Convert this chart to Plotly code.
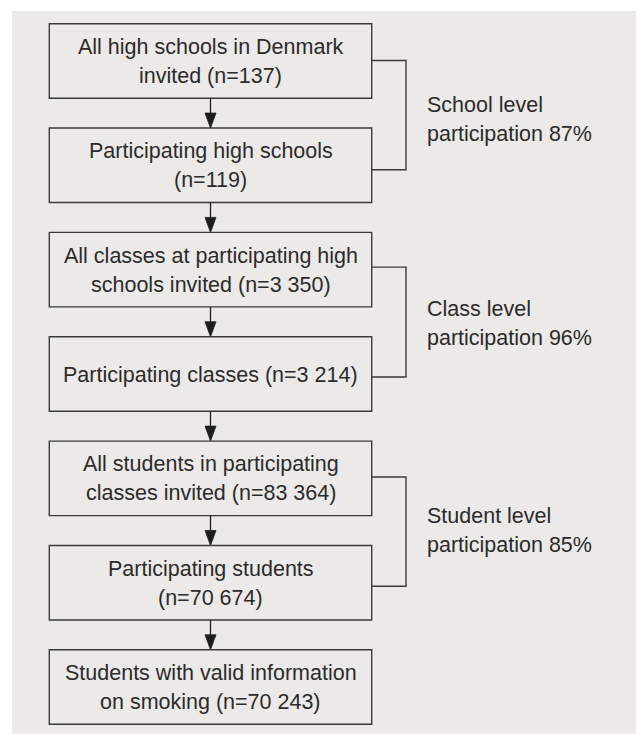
import plotly.graph_objects as go

# ---- data ----
box_labels = [
    "All high schools in Denmark<br>invited (n=137)",
    "Participating high schools<br>(n=119)",
    "All classes at participating high<br>schools invited (n=3 350)",
    "Participating classes (n=3 214)",
    "All students in participating<br>classes invited (n=83 364)",
    "Participating students<br>(n=70 674)",
    "Students with valid information<br>on smoking (n=70 243)",
]
level_names = ["School level", "Class level", "Student level"]
participation_pct = [87, 96, 85]

# ---- layout constants (page pixels) ----
W, H = 644, 734
OFF = 8  # body margin of the html page
panel = dict(x0=12, y0=11, x1=650, y1=740)
box_x0, box_x1 = 49.3, 371.7
box_top0 = 23.7
box_h = 74.5
pitch = 104.35
bracket_x = 406
label_x = 425
conn_off_top = [-0.5, -2.5, -1.3]
conn_off_bot = [4.5, 3.0, 3.5]
label_first_line = [105, 309, 516]
line_gap = 29
line_col = "#3a3a3a"
text_col = "#2b2b2b"
font_family = "Liberation Sans, Arial, sans-serif"
fs = 21.5

shapes = []
annotations = []

shapes.append(dict(type="rect", xref="x", yref="y", **panel,
                   fillcolor="#ebeae8", line=dict(width=0), layer="below"))


def add_lines(x, yc, lines, anchor, align):
    n = len(lines)
    for j, ln in enumerate(lines):
        y = yc + (j - (n - 1) / 2) * line_gap
        annotations.append(dict(x=x, y=y, xref="x", yref="y", text=ln,
                                showarrow=False, xanchor=anchor, yanchor="middle",
                                align=align,
                                font=dict(family=font_family, size=fs, color=text_col)))


box_cx = (box_x0 + box_x1) / 2
tops = [box_top0 + i * pitch for i in range(len(box_labels))]
for i, lab in enumerate(box_labels):
    t = tops[i]
    b = t + box_h
    shapes.append(dict(type="rect", xref="x", yref="y", x0=box_x0, x1=box_x1,
                       y0=t, y1=b, line=dict(color=line_col, width=1.4),
                       fillcolor="rgba(0,0,0,0)"))
    add_lines(box_cx, (t + b) / 2 + 0.5, lab.split("<br>"), "center", "center")
    if i < len(box_labels) - 1:
        nt = tops[i + 1]
        shapes.append(dict(type="line", xref="x", yref="y", x0=box_cx, x1=box_cx,
                           y0=b, y1=nt - 14, line=dict(color="#1e1e1e", width=1.3)))
        shapes.append(dict(type="path", xref="x", yref="y",
                           path=f"M {box_cx-5.5} {nt-15} L {box_cx+5.5} {nt-15} L {box_cx} {nt} Z",
                           fillcolor="#1e1e1e", line=dict(color="#1e1e1e", width=0.8)))

for k in range(3):
    a = 2 * k
    ya = tops[a] + box_h / 2 + conn_off_top[k]
    yb = tops[a + 1] + box_h / 2 + conn_off_bot[k]
    shapes.append(dict(type="path", xref="x", yref="y",
                       path=f"M {box_x1} {ya} L {bracket_x} {ya} L {bracket_x} {yb} L {box_x1} {yb}",
                       line=dict(color=line_col, width=1.4)))
    add_lines(label_x, label_first_line[k] + line_gap / 2,
              [level_names[k], f"participation {participation_pct[k]}%"], "left", "left")

fig = go.Figure()
fig.update_layout(
    width=W - OFF, height=H - OFF, margin=dict(l=0, r=0, t=0, b=0),
    paper_bgcolor="white", plot_bgcolor="white",
    xaxis=dict(range=[OFF, W], visible=False, fixedrange=True),
    yaxis=dict(range=[H, OFF], visible=False, fixedrange=True),
    shapes=shapes, annotations=annotations, showlegend=False,
)
fig.write_html("out.html")
